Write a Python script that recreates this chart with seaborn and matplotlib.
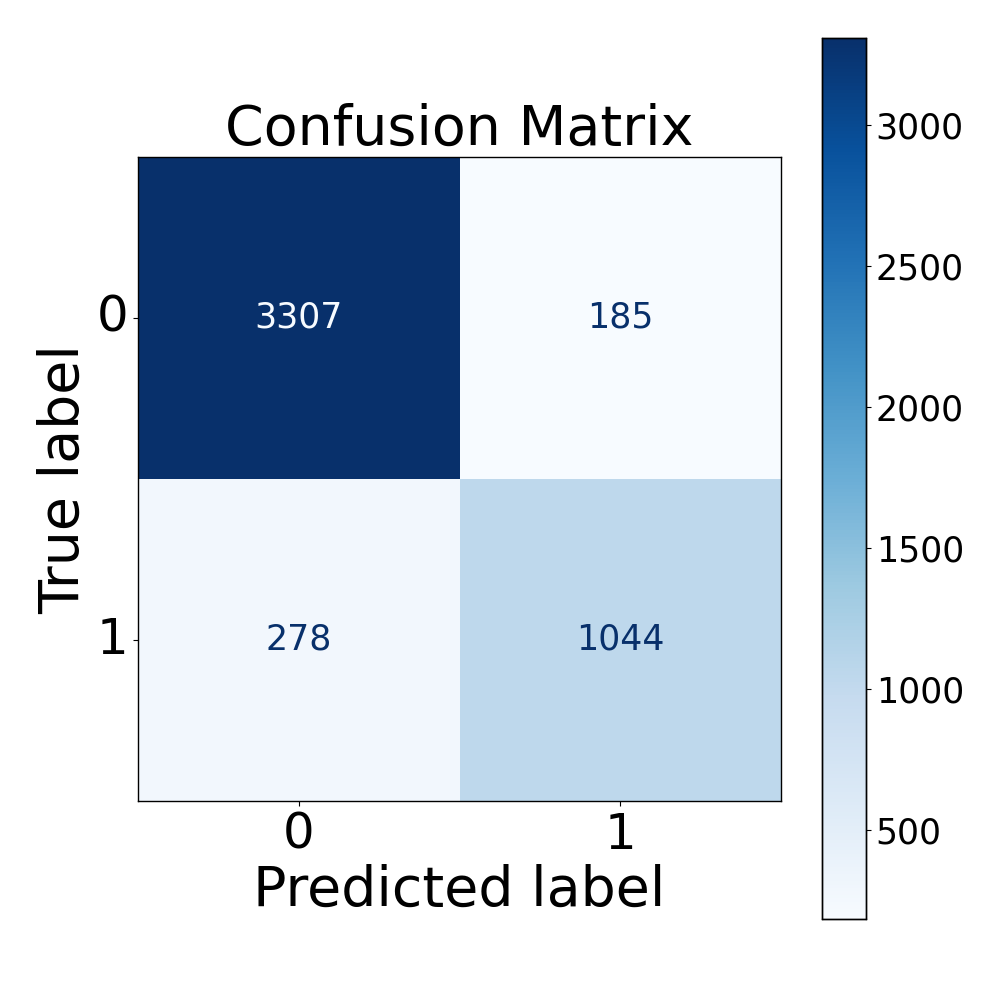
import numpy as np
import matplotlib
matplotlib.use('Agg')
import matplotlib.pyplot as plt
import seaborn as sns

# confusion matrix values
classes = ['0', '1']
row_true0 = [3307, 185]
row_true1 = [278, 1044]
cbar_ticks = [500, 1000, 1500, 2000, 2500, 3000]

cm = np.array([row_true0, row_true1])

fig = plt.figure(figsize=(10, 10), dpi=100)
ax = fig.add_axes([0.138, 0.199, 0.643, 0.644])
cax = fig.add_axes([0.822, 0.081, 0.044, 0.881])

cmap = plt.get_cmap('Blues')
sns.heatmap(cm, ax=ax, cbar_ax=cax, cmap=cmap, annot=False,
            vmin=cm.min(), vmax=cm.max(),
            xticklabels=classes, yticklabels=classes)

# cell text like sklearn's display: white on dark, darkest blue on light
thresh = (cm.max() + cm.min()) / 2.0
for i in range(cm.shape[0]):
    for j in range(cm.shape[1]):
        color = cmap(0.0) if cm[i, j] > thresh else cmap(1.0)
        ax.text(j + 0.5, i + 0.5, str(cm[i, j]), ha='center', va='center',
                fontsize=25, color=color)

for s in ax.spines.values():
    s.set_visible(True)
    s.set_color('black')
    s.set_linewidth(1)

ax.set_title('Confusion Matrix', fontsize=40)
ax.set_xlabel('Predicted label', fontsize=40)
ax.set_ylabel('True label', fontsize=40)
ax.tick_params(axis='both', labelsize=36, length=3.5, width=0.8, left=True, bottom=True)
ax.set_yticklabels(classes, rotation=0)
ax.set_xticklabels(classes, rotation=0)

cax.set_yticks(cbar_ticks)
cax.tick_params(labelsize=25, length=3.5, width=0.8)
for s in cax.spines.values():
    s.set_visible(True)
    s.set_color('black')
    s.set_linewidth(1)

fig.savefig('out.png', dpi=100)
